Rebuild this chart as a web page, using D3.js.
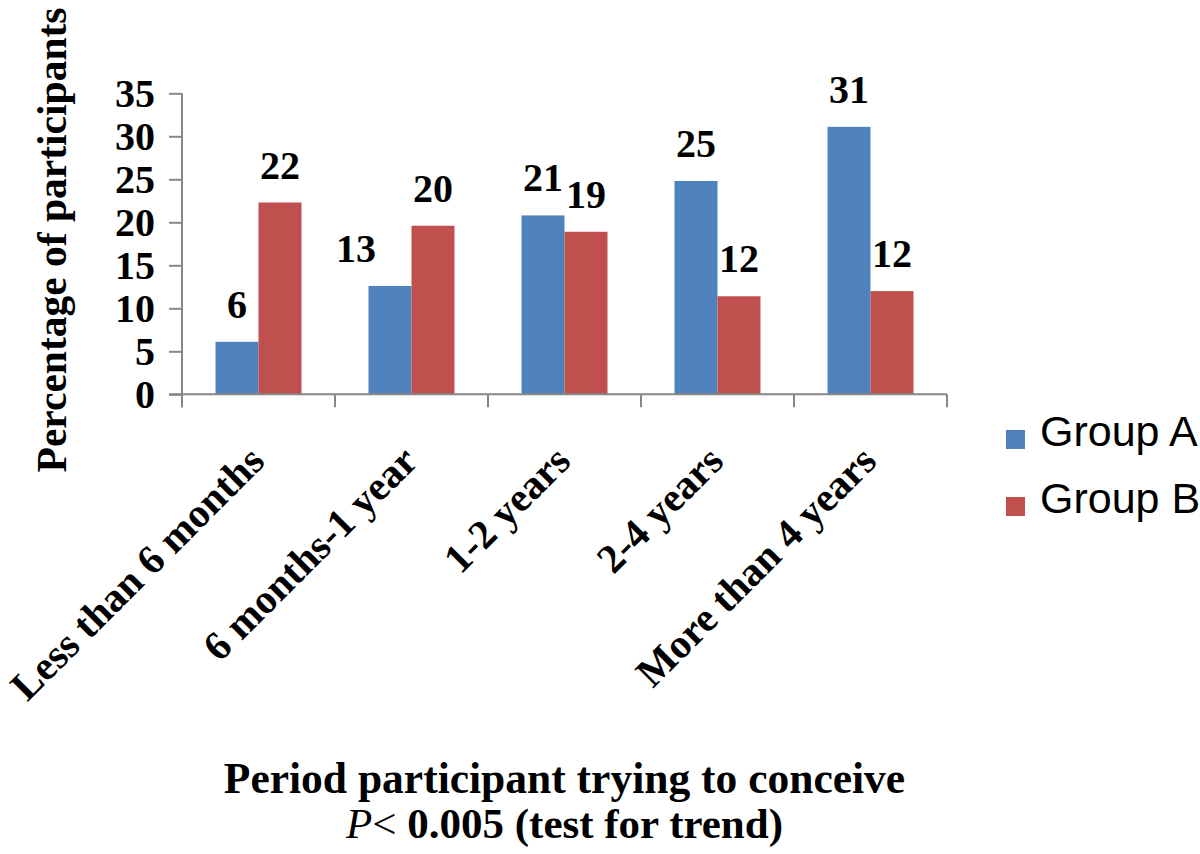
<!DOCTYPE html>
<html>
<head>
<meta charset="utf-8">
<script src="https://cdn.jsdelivr.net/npm/d3@7"></script>
<style>
  html, body { margin: 0; padding: 0; background: #ffffff; }
  svg { display: block; }
</style>
</head>
<body>
<svg id="chart" width="1200" height="854"></svg>
<script>
// ---- data ----
const categories = ["Less than 6 months", "6 months-1 year", "1-2 years", "2-4 years", "More than 4 years"];
const seriesNames = ["Group A", "Group B"];
const groupA = [6.1, 12.6, 20.8, 24.8, 31.1];
const groupB = [22.3, 19.6, 18.9, 11.4, 12.0];
const labelsA = ["6", "13", "21", "25", "31"];
const labelsB = ["22", "20", "19", "12", "12"];
const yTicks = [0, 5, 10, 15, 20, 25, 30, 35];
const colors = ["#4F81BD", "#C0504D"];

const serif = "'Liberation Serif', 'Times New Roman', Times, serif";
const sans = "'Liberation Sans', Arial, Helvetica, sans-serif";

const svg = d3.select("#chart");
const plot = { left: 182, right: 947, top: 93.3, bottom: 394.3 };

const x0 = d3.scaleBand().domain(categories).range([plot.left, plot.right]).padding(0);
const bw = x0.bandwidth();
const gw = bw * 0.562;
const x1 = d3.scaleBand().domain(seriesNames).range([(bw - gw) / 2, (bw + gw) / 2]).padding(0);
const y = d3.scaleLinear().domain([0, 35]).range([plot.bottom, plot.top]);

const rows = categories.map((c, i) => ({
  cat: c, i,
  vals: [
    { s: seriesNames[0], v: groupA[i], label: labelsA[i], color: colors[0] },
    { s: seriesNames[1], v: groupB[i], label: labelsB[i], color: colors[1] }
  ]
}));

// bars
const g = svg.append("g");
const grp = g.selectAll("g.grp").data(rows).join("g")
  .attr("class", "grp")
  .attr("transform", d => `translate(${x0(d.cat)},0)`);

grp.selectAll("rect").data(d => d.vals).join("rect")
  .attr("x", d => x1(d.s))
  .attr("width", x1.bandwidth())
  .attr("y", d => y(d.v))
  .attr("height", d => y(0) - y(d.v))
  .attr("fill", d => d.color);

// data labels
const nudge = (d, i) => (d.s === "Group A" && i === 1 ? -34 : 0);
grp.each(function (row) {
  d3.select(this).selectAll("text.lbl").data(row.vals).join("text")
    .attr("class", "lbl")
    .attr("x", d => x1(d.s) + x1.bandwidth() / 2 + nudge(d, row.i))
    .attr("y", d => y(d.v) - 24)
    .attr("text-anchor", "middle")
    .attr("font-family", serif)
    .attr("font-weight", "bold")
    .attr("font-size", 40)
    .attr("fill", "#000")
    .text(d => d.label);
});

// y axis
const axisColor = "#878787";
const yAxis = svg.append("g")
  .attr("transform", `translate(${plot.left},0)`)
  .call(d3.axisLeft(y).tickValues(yTicks).tickSize(13).tickPadding(14).tickFormat(d3.format("d")));
yAxis.select(".domain").attr("stroke", axisColor).attr("stroke-width", 2)
  .attr("d", `M0,${plot.top}V${plot.bottom + 13}`);
yAxis.selectAll(".tick line").attr("stroke", axisColor).attr("stroke-width", 2);
yAxis.selectAll(".tick text")
  .attr("font-family", serif).attr("font-weight", "bold").attr("font-size", 40).attr("fill", "#000");

// x axis line + boundary ticks
const xAxis = svg.append("g");
xAxis.append("line")
  .attr("x1", plot.left - 13).attr("x2", plot.right)
  .attr("y1", plot.bottom).attr("y2", plot.bottom)
  .attr("stroke", axisColor).attr("stroke-width", 2);
const bounds = categories.map(c => x0(c)).concat([x0(categories[categories.length - 1]) + bw]);
xAxis.selectAll("line.tk").data(bounds).join("line")
  .attr("class", "tk")
  .attr("x1", d => d).attr("x2", d => d)
  .attr("y1", plot.bottom).attr("y2", plot.bottom + 13)
  .attr("stroke", axisColor).attr("stroke-width", 2);

// x tick labels, rotated
xAxis.selectAll("text.xl").data(categories).join("text")
  .attr("class", "xl")
  .attr("transform", d => `translate(${x0(d) + bw / 2 + 8},${plot.bottom + 69}) rotate(-45)`)
  .attr("text-anchor", "end")
  .attr("font-family", serif).attr("font-weight", "bold").attr("font-size", 41)
  .attr("fill", "#000")
  .text(d => d);

// y axis title
svg.append("text")
  .attr("transform", "translate(66,240) rotate(-90)")
  .attr("text-anchor", "middle")
  .attr("font-family", serif).attr("font-weight", "bold").attr("font-size", 41.5)
  .attr("fill", "#000")
  .text("Percentage of participants");

// x axis title
const cx = (plot.left + plot.right) / 2;
svg.append("text")
  .attr("x", cx).attr("y", 793)
  .attr("text-anchor", "middle")
  .attr("font-family", serif).attr("font-weight", "bold").attr("font-size", 43.5)
  .attr("fill", "#000")
  .text("Period participant trying to conceive");
const t2 = svg.append("text")
  .attr("x", cx).attr("y", 838)
  .attr("text-anchor", "middle")
  .attr("font-family", serif).attr("font-weight", "bold").attr("font-size", 43)
  .attr("fill", "#000");
t2.append("tspan").attr("font-style", "italic").attr("font-weight", "normal").text("P");
t2.append("tspan").attr("font-weight", "normal").text("<");
t2.append("tspan").text(" 0.005 (test for trend)");

// legend
const legend = svg.append("g");
const lg = legend.selectAll("g").data(seriesNames).join("g")
  .attr("transform", (d, i) => `translate(1006,${430 + i * 67})`);
lg.append("rect").attr("width", 19).attr("height", 19).attr("fill", (d, i) => colors[i]);
lg.append("text")
  .attr("x", 34).attr("y", 16)
  .attr("font-family", sans).attr("font-size", 43).attr("fill", "#000")
  .text(d => d);
</script>
</body>
</html>
